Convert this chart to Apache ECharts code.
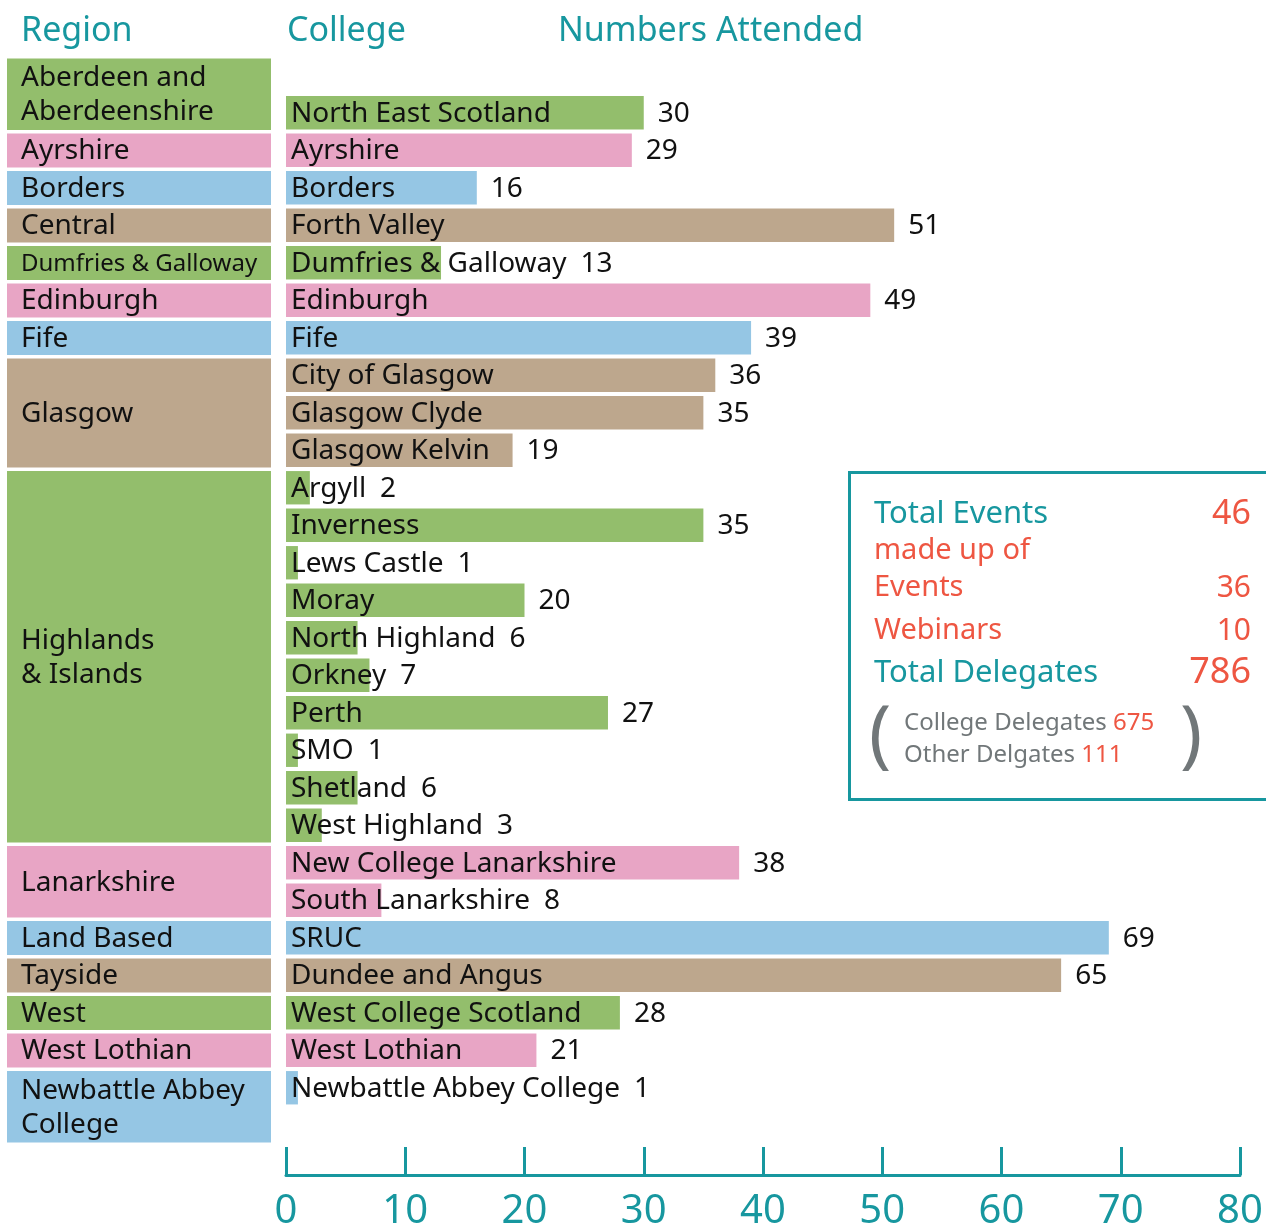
<!DOCTYPE html>
<html>
<head>
<meta charset="utf-8">
<script src="https://cdn.jsdelivr.net/npm/echarts@6/dist/echarts.min.js"></script>
<style>
  html, body { margin: 0; padding: 0; background: #fff; }
  #main { width: 1266px; height: 1231px; }
</style>
</head>
<body>
<div id="main"></div>
<script>
// regions down the left, with the first and last row each one covers
const regions = ['Aberdeen and\nAberdeenshire', 'Ayrshire', 'Borders', 'Central', 'Dumfries & Galloway',
  'Edinburgh', 'Fife', 'Glasgow', 'Highlands\n& Islands', 'Lanarkshire', 'Land Based', 'Tayside',
  'West', 'West Lothian', 'Newbattle Abbey\nCollege']
const regionFirstRow = [-1, 1, 2, 3, 4, 5, 6, 7, 10, 20, 22, 23, 24, 25, 26]
const regionLastRow = [0, 1, 2, 3, 4, 5, 6, 9, 19, 21, 22, 23, 24, 25, 27]

const colleges = ['North East Scotland', 'Ayrshire', 'Borders', 'Forth Valley', 'Dumfries & Galloway',
  'Edinburgh', 'Fife', 'City of Glasgow', 'Glasgow Clyde', 'Glasgow Kelvin', 'Argyll', 'Inverness',
  'Lews Castle', 'Moray', 'North Highland', 'Orkney', 'Perth', 'SMO', 'Shetland', 'West Highland',
  'New College Lanarkshire', 'South Lanarkshire', 'SRUC', 'Dundee and Angus', 'West College Scotland',
  'West Lothian', 'Newbattle Abbey College']
const attended = [30, 29, 16, 51, 13, 49, 39, 36, 35, 19, 2, 35, 1, 20, 6, 7, 27, 1, 6, 3, 38, 8, 69, 65, 28, 21, 1]
const collegeRegion = [0, 1, 2, 3, 4, 5, 6, 7, 7, 7, 8, 8, 8, 8, 8, 8, 8, 8, 8, 8, 9, 9, 10, 11, 12, 13, 14]

const xTicks = [0, 10, 20, 30, 40, 50, 60, 70, 80]

const totalEvents = 46
const events = 36
const webinars = 10
const totalDelegates = 786
const collegeDelegates = 675
const otherDelegates = 111

const palette = ['#93be6c', '#e8a5c5', '#95c6e4', '#bda78d']
const teal = '#17979f'
const red = '#ee5642'
const grey = '#717779'
const FONT = '"Noto Sans", sans-serif'
const SIZE = 28

const ctx = document.createElement('canvas').getContext('2d')
function textWidth(s, size) {
  ctx.font = size + 'px ' + FONT
  return ctx.measureText(s).width
}

const myChart = echarts.init(document.getElementById('main'))

var option = {
  animation: false,
  grid: [
    { left: 286, top: 94, width: 954, height: 1012.5, outerBoundsMode: 'none', containLabel: false }, // bars
    { left: 7, top: 56.75, width: 264, height: 1087.5, outerBoundsMode: 'none', containLabel: false } // region boxes
  ],
  xAxis: [
    {
      type: 'value',
      gridIndex: 0,
      min: xTicks[0],
      max: xTicks[xTicks.length - 1],
      interval: 10,
      offset: 68.5,
      splitLine: { show: false },
      axisLine: { show: true, lineStyle: { color: teal, width: 3 } },
      axisTick: { show: true, inside: true, length: 28, lineStyle: { color: teal, width: 3 } },
      axisLabel: { color: teal, fontSize: 40, fontFamily: FONT, margin: 17 }
    },
    { type: 'value', gridIndex: 1, min: 0, max: 1, show: false }
  ],
  yAxis: [
    { type: 'category', gridIndex: 0, inverse: true, data: colleges, show: false },
    { type: 'value', gridIndex: 1, inverse: true, min: -1.5, max: 27.5, show: false }
  ],
  series: [
    {
      type: 'bar',
      xAxisIndex: 0,
      yAxisIndex: 0,
      barCategoryGap: '11%',
      z: 2,
      data: attended.map((v, i) => ({ value: v, itemStyle: { color: palette[collegeRegion[i] % 4] } }))
    },
    {
      // college name inside the bar, number after the bar or after the name
      type: 'custom',
      xAxisIndex: 0,
      yAxisIndex: 0,
      clip: false,
      z: 10,
      data: attended.map((v, i) => [v, i]),
      renderItem: function (params, api) {
        const v = api.value(0)
        const idx = api.value(1)
        const start = api.coord([0, idx])
        const end = api.coord([v, idx])
        const name = colleges[idx]
        const nameX = start[0] + 5
        const valX = Math.max(end[0], nameX + textWidth(name, SIZE)) + 14
        const st = { fill: '#111', fontSize: SIZE, fontFamily: FONT, verticalAlign: 'middle', align: 'left' }
        return {
          type: 'group',
          children: [
            { type: 'text', style: Object.assign({ text: name, x: nameX, y: start[1] + 1 }, st) },
            { type: 'text', style: Object.assign({ text: String(v), x: valX, y: start[1] + 1 }, st) }
          ]
        }
      }
    },
    {
      type: 'custom',
      xAxisIndex: 1,
      yAxisIndex: 1,
      clip: false,
      data: regions.map((r, i) => [regionFirstRow[i], regionLastRow[i], i]),
      renderItem: function (params, api) {
        const i = api.value(2)
        const top = api.coord([0, api.value(0) - 0.5])
        const bot = api.coord([1, api.value(1) + 0.5])
        const y0 = top[1] + 1.75
        const y1 = bot[1] - 1.75
        const label = regions[i]
        const lines = label.split('\n')
        let size = SIZE
        const room = bot[0] - top[0] - 22
        const widest = Math.max.apply(null, lines.map(s => textWidth(s, SIZE)))
        if (widest > room) size = Math.floor(SIZE * room / widest)
        return {
          type: 'group',
          children: [
            {
              type: 'rect',
              shape: { x: top[0], y: y0, width: bot[0] - top[0], height: y1 - y0 },
              style: { fill: palette[i % 4] }
            },
            {
              type: 'text',
              style: {
                text: label, x: top[0] + 14, y: (y0 + y1) / 2 + 1,
                fill: '#111', fontSize: size, fontFamily: FONT, lineHeight: 34,
                verticalAlign: 'middle', align: 'left'
              }
            }
          ]
        }
      }
    }
  ],
  graphic: [
    { type: 'text', x: 21, y: 31, style: { text: 'Region', fill: teal, fontSize: 34, fontFamily: FONT, verticalAlign: 'middle' } },
    { type: 'text', x: 287, y: 31, style: { text: 'College', fill: teal, fontSize: 34, fontFamily: FONT, verticalAlign: 'middle' } },
    { type: 'text', x: 558, y: 31, style: { text: 'Numbers Attended', fill: teal, fontSize: 34, fontFamily: FONT, verticalAlign: 'middle' } },
    {
      type: 'rect',
      shape: { x: 849.5, y: 472.5, width: 440, height: 327 },
      style: { fill: '#fff', stroke: teal, lineWidth: 3 }
    },
    { type: 'text', x: 874, y: 514, style: { text: 'Total Events', fill: teal, fontSize: 31, fontFamily: FONT, verticalAlign: 'middle' } },
    { type: 'text', x: 1251, y: 514, style: { text: String(totalEvents), fill: red, fontSize: 34, fontFamily: FONT, verticalAlign: 'middle', align: 'right' } },
    { type: 'text', x: 874, y: 551, style: { text: 'made up of', fill: red, fontSize: 29, fontFamily: FONT, verticalAlign: 'middle' } },
    { type: 'text', x: 874, y: 588, style: { text: 'Events', fill: red, fontSize: 29, fontFamily: FONT, verticalAlign: 'middle' } },
    { type: 'text', x: 1251, y: 588, style: { text: String(events), fill: red, fontSize: 30, fontFamily: FONT, verticalAlign: 'middle', align: 'right' } },
    { type: 'text', x: 874, y: 631, style: { text: 'Webinars', fill: red, fontSize: 29, fontFamily: FONT, verticalAlign: 'middle' } },
    { type: 'text', x: 1251, y: 631, style: { text: String(webinars), fill: red, fontSize: 30, fontFamily: FONT, verticalAlign: 'middle', align: 'right' } },
    { type: 'text', x: 874, y: 673, style: { text: 'Total Delegates', fill: teal, fontSize: 31, fontFamily: FONT, verticalAlign: 'middle' } },
    { type: 'text', x: 1251, y: 673, style: { text: String(totalDelegates), fill: red, fontSize: 36, fontFamily: FONT, verticalAlign: 'middle', align: 'right' } },
    { type: 'text', x: 869, y: 738, style: { text: '(', fill: grey, fontSize: 74, fontFamily: FONT, verticalAlign: 'middle' } },
    { type: 'text', x: 1180, y: 738, style: { text: ')', fill: grey, fontSize: 74, fontFamily: FONT, verticalAlign: 'middle' } },
    {
      type: 'text', x: 904, y: 723,
      style: {
        text: '{g|College Delegates }{r|' + collegeDelegates + '}', verticalAlign: 'middle',
        rich: { g: { fill: grey, fontSize: 24, fontFamily: FONT }, r: { fill: red, fontSize: 24, fontFamily: FONT } }
      }
    },
    {
      type: 'text', x: 904, y: 755,
      style: {
        text: '{g|Other Delgates }{r|' + otherDelegates + '}', verticalAlign: 'middle',
        rich: { g: { fill: grey, fontSize: 24, fontFamily: FONT }, r: { fill: red, fontSize: 24, fontFamily: FONT } }
      }
    }
  ]
}
option && myChart.setOption(option)
</script>
</body>
</html>
